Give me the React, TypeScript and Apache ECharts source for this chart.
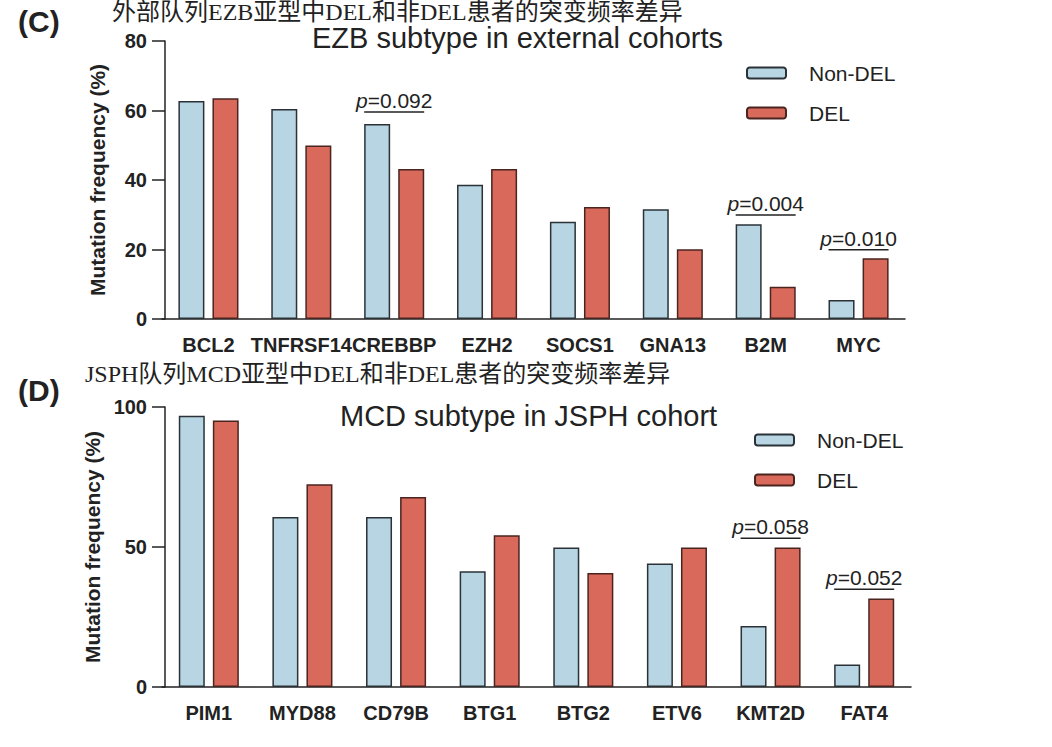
import React, { useEffect, useRef } from "react";
import * as echarts from "echarts";

const genesC = ["BCL2", "TNFRSF14", "CREBBP", "EZH2", "SOCS1", "GNA13", "B2M", "MYC"];
const nonDelC = [62.7, 60.4, 56.1, 38.6, 28.0, 31.6, 27.3, 5.5];
const delC = [63.5, 49.9, 43.2, 43.2, 32.2, 20.1, 9.3, 17.5];
const pPosC = [[2, 59.6], [6, 29.9], [7, 19.9]];
const pLabC = ["0.092", "0.004", "0.010"];

const genesD = ["PIM1", "MYD88", "CD79B", "BTG1", "BTG2", "ETV6", "KMT2D", "FAT4"];
const nonDelD = [96.9, 60.7, 60.7, 41.3, 49.8, 44.1, 21.8, 8.0];
const delD = [95.2, 72.4, 67.9, 54.2, 40.7, 49.8, 49.8, 31.6];
const pPosD = [[6, 53.1], [7, 34.9]];
const pLabD = ["0.058", "0.052"];

const BLUE = "#B7D5E2";
const RED = "#D9695A";
const INK = "#222222";
const SANS = "'Liberation Sans', Arial, sans-serif";

function pSeries(idx: number, pos: number[][], labs: string[]) {
  return {
    type: "custom",
    name: "p" + idx,
    xAxisIndex: idx,
    yAxisIndex: idx,
    silent: true,
    z: 10,
    data: pos,
    renderItem: (params: any, api: any) => {
      const c = api.coord([api.value(0), api.value(1)]);
      const lab = labs[params.dataIndex];
      return {
        type: "group",
        children: [
          {
            type: "line",
            shape: { x1: c[0] - 30, y1: c[1], x2: c[0] + 30, y2: c[1] },
            style: { stroke: INK, lineWidth: 1.5 },
          },
          {
            type: "text",
            x: c[0],
            y: c[1] - 1,
            style: {
              text: "{i|p}=" + lab,
              align: "center",
              verticalAlign: "bottom",
              fontSize: 21,
              fontFamily: SANS,
              fill: INK,
              rich: { i: { fontStyle: "italic", fontSize: 21, fontFamily: SANS, fill: INK } },
            },
          },
        ],
      };
    },
  };
}

function barSeries(name: string, idx: number, data: number[], color: string, border: string) {
  return {
    type: "bar",
    name,
    xAxisIndex: idx,
    yAxisIndex: idx,
    data,
    barWidth: 26,
    barGap: "31%",
    itemStyle: { color, borderColor: border, borderWidth: 1.5 },
  };
}

function xAx(idx: number, data: string[]) {
  return {
    type: "category",
    gridIndex: idx,
    data,
    axisLine: { lineStyle: { color: INK, width: 1.5 } },
    axisTick: { alignWithLabel: true, length: 11, lineStyle: { color: INK, width: 1.5 } },
    axisLabel: {
      interval: 0,
      margin: 16,
      fontSize: 20,
      fontWeight: "bold",
      fontFamily: SANS,
      color: INK,
    },
  };
}

function yAx(idx: number, max: number, interval: number) {
  return {
    type: "value",
    gridIndex: idx,
    min: 0,
    max,
    interval,
    offset: -3,
    name: "Mutation frequency (%)",
    nameLocation: "middle",
    nameGap: 57,
    nameRotate: 90,
    nameTextStyle: { fontSize: 21, fontWeight: "bold", fontFamily: SANS, color: INK },
    axisLine: { show: true, lineStyle: { color: INK, width: 1.5 } },
    axisTick: { show: true, length: 13, lineStyle: { color: INK, width: 1.5 } },
    splitLine: { show: false },
    axisLabel: { margin: 18, fontSize: 20, fontWeight: "bold", fontFamily: SANS, color: INK },
  };
}

function legend(left: number, top: number) {
  return {
    left,
    top,
    orient: "vertical",
    padding: 0,
    itemWidth: 39,
    itemHeight: 11,
    itemGap: 16,
    data: ["Non-DEL", "DEL"],
    textStyle: { fontSize: 21, fontFamily: SANS, color: INK, lineHeight: 24, padding: [0, 0, 0, 18] },
  };
}

export default function App() {
  const ref = useRef<HTMLDivElement>(null);
  useEffect(() => {
    if (!ref.current) return;
    const chart = echarts.init(ref.current, undefined, { renderer: "svg" });
    chart.setOption({
      animation: false,
      backgroundColor: "#ffffff",
      title: [
        {
          text: "EZB subtype in external cohorts",
          left: 312,
          top: 23,
          padding: 0,
          textStyle: { fontSize: 29, fontWeight: "normal", fontFamily: SANS, color: INK },
        },
        {
          text: "MCD subtype in JSPH cohort",
          left: 340,
          top: 401,
          padding: 0,
          textStyle: { fontSize: 29, fontWeight: "normal", fontFamily: SANS, color: INK },
        },
      ],
      legend: [legend(746, 61), legend(754, 428)],
      grid: [
        { left: 162, top: 41, width: 743, height: 278 },
        { left: 162, top: 407, width: 749, height: 280 },
      ],
      xAxis: [xAx(0, genesC), xAx(1, genesD)],
      yAxis: [yAx(0, 80, 20), yAx(1, 100, 50)],
      series: [
        barSeries("Non-DEL", 0, nonDelC, BLUE, "#2a3238"),
        barSeries("DEL", 0, delC, RED, "#4a2520"),
        barSeries("Non-DEL", 1, nonDelD, BLUE, "#2a3238"),
        barSeries("DEL", 1, delD, RED, "#4a2520"),
        pSeries(0, pPosC, pLabC),
        pSeries(1, pPosD, pLabD),
      ],
      graphic: [
        {
          type: "text",
          left: 18,
          top: 6,
          style: { text: "(C)", fontSize: 30, fontWeight: "bold", fontFamily: SANS, fill: INK },
        },
        {
          type: "text",
          left: 18,
          top: 375,
          style: { text: "(D)", fontSize: 30, fontWeight: "bold", fontFamily: SANS, fill: INK },
        },
        {
          type: "text",
          left: 112,
          top: 0,
          style: {
            text: "外部队列EZB亚型中DEL和非DEL患者的突变频率差异",
            fontSize: 24,
            fontFamily: "'Liberation Serif', 'Noto Sans CJK SC', serif",
            fill: INK,
          },
        },
        {
          type: "text",
          left: 85,
          top: 362,
          style: {
            text: "JSPH队列MCD亚型中DEL和非DEL患者的突变频率差异",
            fontSize: 24,
            fontFamily: "'Liberation Serif', 'Noto Sans CJK SC', serif",
            fill: INK,
          },
        },
      ],
    });
    return () => chart.dispose();
  }, []);
  return (
    <div
      ref={ref}
      style={{ position: "absolute", left: 0, top: 0, width: 1052, height: 747, background: "#fff" }}
    />
  );
}
